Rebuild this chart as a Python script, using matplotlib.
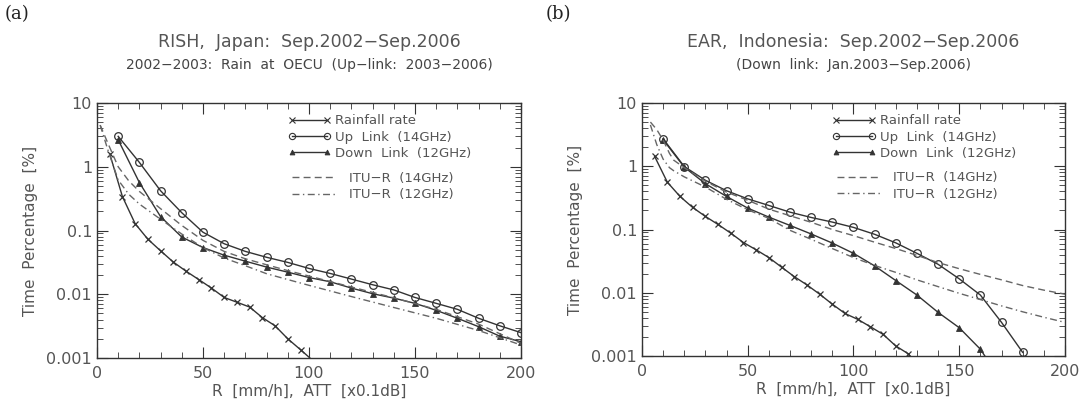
import numpy as np
import matplotlib
matplotlib.use("Agg")
import matplotlib.pyplot as plt
from matplotlib.ticker import MultipleLocator, LogLocator, FuncFormatter, NullFormatter
from matplotlib.lines import Line2D

# ---- data ----
link_x = [10, 20, 30, 40, 50, 60, 70, 80, 90, 100, 110, 120, 130, 140, 150, 160, 170, 180, 190, 200]

# (a) RISH, Japan
rain_a_x = [6, 12, 18, 24, 30, 36, 42, 48, 54, 60, 66, 72, 78, 84, 90, 96, 102]
rain_a_y = [1.6, 0.34, 0.128, 0.073, 0.048, 0.032, 0.023, 0.017, 0.0125, 0.0089, 0.0075, 0.0063,
            0.0043, 0.0032, 0.0020, 0.00135, 0.0009]
up_a_y = [3.0, 1.17, 0.42, 0.19, 0.094, 0.062, 0.047, 0.038, 0.0316, 0.0254, 0.0212, 0.0173,
          0.0141, 0.0117, 0.0089, 0.0072, 0.0058, 0.0042, 0.0032, 0.0025]
down_a_y = [2.65, 0.565, 0.165, 0.079, 0.054, 0.041, 0.033, 0.0267, 0.0222, 0.0183, 0.0157, 0.0125,
            0.0102, 0.0087, 0.0072, 0.0056, 0.0042, 0.0031, 0.0022, 0.0018]
itu_a_x = [1.5, 5, 10, 15, 20, 30, 40, 50, 60, 70, 80, 90, 100, 120, 140, 160, 180, 200]
itu14_a_y = [4.5, 2.4, 1.0, 0.6, 0.41, 0.22, 0.12, 0.07, 0.047, 0.036, 0.029, 0.0235, 0.0193,
             0.013, 0.0088, 0.0058, 0.0034, 0.0017]
itu12_a_y = [4.5, 1.9, 0.62, 0.37, 0.26, 0.15, 0.088, 0.054, 0.037, 0.028, 0.021, 0.017, 0.0138,
             0.0092, 0.0062, 0.0042, 0.0027, 0.0016]

# (b) EAR, Indonesia
rain_b_x = [6, 12, 18, 24, 30, 36, 42, 48, 54, 60, 66, 72, 78, 84, 90, 96, 102, 108, 114, 120, 126, 132]
rain_b_y = [1.43, 0.56, 0.333, 0.223, 0.161, 0.12, 0.0875, 0.0622, 0.0477, 0.036, 0.0254, 0.018,
            0.0133, 0.0095, 0.0066, 0.0047, 0.0038, 0.0029, 0.0022, 0.00144, 0.00108, 0.0006]
up_b_y = [2.72, 0.99, 0.60, 0.41, 0.305, 0.24, 0.188, 0.155, 0.131, 0.108, 0.084, 0.0615, 0.042,
          0.0282, 0.0166, 0.0092, 0.0034, 0.00114, np.nan, np.nan]
down_b_y = [2.63, 0.97, 0.53, 0.333, 0.218, 0.157, 0.116, 0.085, 0.061, 0.042, 0.0266, 0.0156,
            0.0092, 0.0049, 0.0028, 0.00128, 0.0004, np.nan, np.nan, np.nan]
itu_b_x = [4, 7, 10, 13, 15, 20, 30, 40, 50, 60, 70, 80, 90, 100, 110, 120, 130, 140, 150, 160, 170, 180, 190, 200]
itu14_b_y = [5.0, 3.8, 2.6, 1.6, 1.25, 0.95, 0.58, 0.39, 0.29, 0.21, 0.165, 0.13, 0.1, 0.08, 0.063,
             0.05, 0.039, 0.03, 0.024, 0.0195, 0.016, 0.013, 0.011, 0.0095]
itu12_b_y = [4.5, 2.2, 1.3, 0.95, 0.85, 0.68, 0.47, 0.3, 0.205, 0.15, 0.097, 0.07, 0.05, 0.036, 0.027,
             0.021, 0.016, 0.0125, 0.0098, 0.0078, 0.0062, 0.005, 0.0041, 0.0034]

panels = [
    dict(tag="(a)", title="RISH,  Japan:  Sep.2002\u2212Sep.2006",
         sub="2002\u22122003:  Rain  at  OECU  (Up\u2212link:  2003\u22122006)",
         rain=(rain_a_x, rain_a_y), up=up_a_y, down=down_a_y,
         itu_x=itu_a_x, itu14=itu14_a_y, itu12=itu12_a_y,
         rect=[0.0898, 0.1204, 0.3926, 0.6265], tagx=0.004),
    dict(tag="(b)", title="EAR,  Indonesia:  Sep.2002\u2212Sep.2006",
         sub="(Down  link:  Jan.2003\u2212Sep.2006)",
         rain=(rain_b_x, rain_b_y), up=up_b_y, down=down_b_y,
         itu_x=itu_b_x, itu14=itu14_b_y, itu12=itu12_b_y,
         rect=[0.5944, 0.1253, 0.3917, 0.6216], tagx=0.505),
]

LC = "#333333"
GC = "#666666"
TC = "#555555"

fig = plt.figure(figsize=(10.8, 4.07), dpi=100)

for p in panels:
    ax = fig.add_axes(p["rect"])
    rx, ry = p["rain"]
    ax.plot(rx, ry, color=LC, lw=1.0, marker="x", ms=5, mew=0.9)
    ax.plot(link_x, p["up"], color=LC, lw=1.0, marker="o", ms=5.5, mfc="none", mew=0.9)
    ax.plot(link_x, p["down"], color=LC, lw=1.0, marker="^", ms=4, mew=0.6)
    ax.plot(p["itu_x"], p["itu14"], color=GC, lw=1.0, dashes=(5, 3))
    ax.plot(p["itu_x"], p["itu12"], color=GC, lw=1.0, dashes=(5, 2.5, 1, 2.5))

    ax.set_yscale("log")
    ax.set_xlim(0, 200)
    ax.set_ylim(0.001, 10)
    ax.xaxis.set_major_locator(MultipleLocator(50))
    ax.xaxis.set_minor_locator(MultipleLocator(10))
    ax.yaxis.set_major_locator(LogLocator(base=10, numticks=10))
    ax.yaxis.set_minor_locator(LogLocator(base=10, subs=np.arange(2, 10), numticks=20))
    ax.yaxis.set_major_formatter(FuncFormatter(lambda v, pos: "%g" % v))
    ax.yaxis.set_minor_formatter(NullFormatter())
    ax.tick_params(which="both", direction="in", top=True, right=True, colors="#333333",
                   labelcolor=TC, labelsize=11.5)
    ax.tick_params(which="major", length=8, width=0.8)
    ax.tick_params(which="minor", length=4, width=0.6)
    ax.tick_params(axis="x", pad=6)
    for s in ax.spines.values():
        s.set_color("#333333")
        s.set_linewidth(1.0)

    ax.set_xlabel("R  [mm/h],  ATT  [x0.1dB]", color=TC, fontsize=11, labelpad=2)
    ax.set_ylabel("Time  Percentage  [%]", color=TC, fontsize=11, labelpad=6)
    ax.text(0.5, 1.24, p["title"], transform=ax.transAxes, ha="center", va="center",
            color=TC, fontsize=12.5)
    ax.text(0.5, 1.15, p["sub"], transform=ax.transAxes, ha="center", va="center",
            color="#444444", fontsize=10)
    fig.text(p["tagx"], 0.966, p["tag"], family="DejaVu Serif", fontsize=13,
             ha="left", va="center", color="#222222")

    h1 = [Line2D([], [], color=LC, lw=1.0, marker="x", ms=4, mew=0.8),
          Line2D([], [], color=LC, lw=1.0, marker="o", ms=4.5, mfc="none", mew=0.8),
          Line2D([], [], color=LC, lw=1.0, marker="^", ms=3.5, mew=0.6)]
    leg1 = ax.legend(h1, ["Rainfall rate", "Up  Link  (14GHz)", "Down  Link  (12GHz)"],
                     loc="upper left", bbox_to_anchor=(0.45, 0.955), frameon=False,
                     numpoints=2, handlelength=3.3, handletextpad=0.3, labelspacing=0.25,
                     borderpad=0, borderaxespad=0, fontsize=9.5, labelcolor=TC)
    ax.add_artist(leg1)
    h2 = [Line2D([], [], color=GC, lw=1.0, dashes=(5, 3)),
          Line2D([], [], color=GC, lw=1.0, dashes=(5, 2.5, 1, 2.5))]
    ax.legend(h2, ["ITU\u2212R  (14GHz)", "ITU\u2212R  (12GHz)"],
              loc="upper left", bbox_to_anchor=(0.46, 0.73), frameon=False,
              handlelength=3.3, handletextpad=1.0, labelspacing=0.25,
              borderpad=0, borderaxespad=0, fontsize=9.5, labelcolor=TC)

fig.savefig("out.png", dpi=100)
